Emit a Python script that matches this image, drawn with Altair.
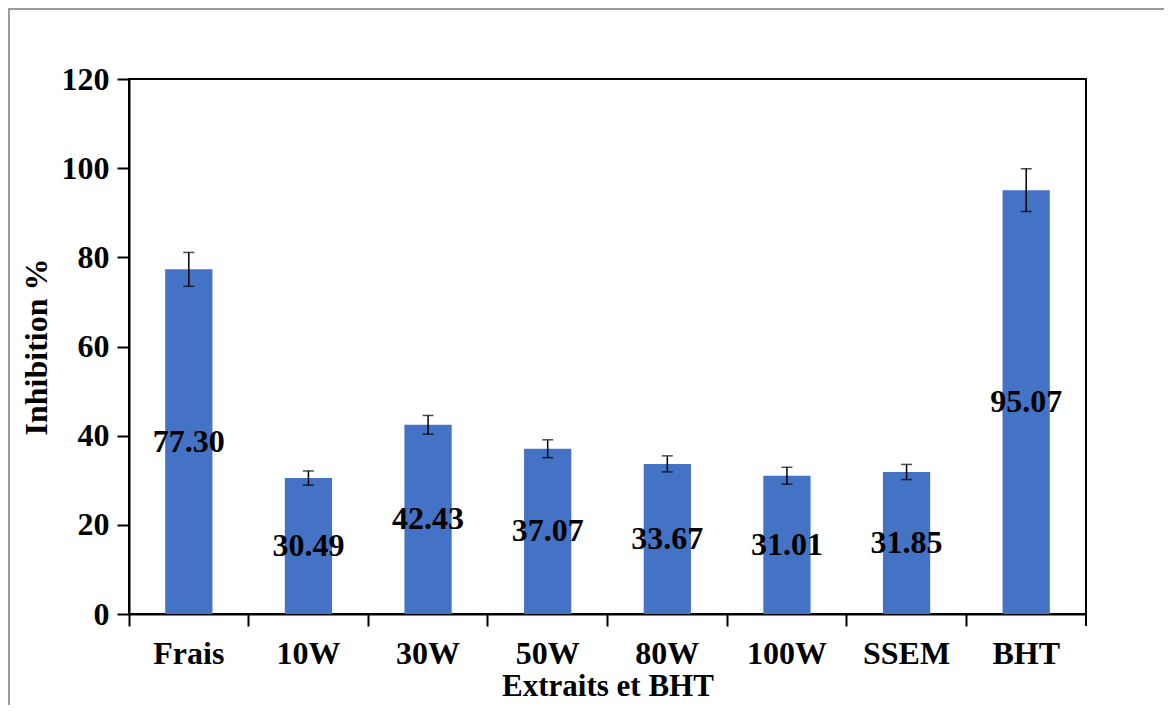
import altair as alt
import pandas as pd

categories = ["Frais", "10W", "30W", "50W", "80W", "100W", "SSEM", "BHT"]
values = [77.30, 30.49, 42.43, 37.07, 33.67, 31.01, 31.85, 95.07]
errors = [3.8, 1.6, 2.1, 2.0, 1.8, 1.9, 1.7, 4.8]
y_ticks = [0, 20, 40, 60, 80, 100, 120]

df = pd.DataFrame({"cat": categories, "val": values, "err": errors})

FONT = "Liberation Serif"
W, H = 957, 535

xenc = alt.X("cat:N", sort=categories, title="Extraits et BHT",
             scale=alt.Scale(paddingInner=0, paddingOuter=0),
             axis=alt.Axis(labelAngle=0, bandPosition=0, ticks=True, tickSize=12,
                           tickWidth=2, tickColor="black", domainColor="black",
                           domainWidth=2, labelFont=FONT, labelFontSize=32,
                           labelFontWeight="bold", labelColor="black", labelPadding=12,
                           titleFont=FONT, titleFontSize=31, titleFontWeight="bold",
                           titleColor="black", titlePadding=2))

yscale = alt.Scale(domain=[0, 120], nice=False)

base = alt.Chart(df)

bars = base.mark_bar(color="#4472C4", width=alt.RelativeBandSize(0.395)).encode(
    x=xenc,
    y=alt.Y("val:Q", scale=yscale, title="Inhibition %",
            axis=alt.Axis(values=y_ticks, grid=False, tickSize=12, tickWidth=2,
                          tickColor="black", domainColor="black", domainWidth=2,
                          labelFont=FONT, labelFontSize=32, labelFontWeight="bold",
                          labelColor="black", labelPadding=8,
                          titleFont=FONT, titleFontSize=32, titleFontWeight="bold",
                          titleColor="black", titlePadding=8)),
)

err_rule = base.transform_calculate(
    lo="datum.val - datum.err", hi="datum.val + datum.err"
).mark_rule(color="black", strokeWidth=1.5).encode(
    x=alt.X("cat:N", sort=categories),
    y=alt.Y("lo:Q", scale=yscale),
    y2="hi:Q",
)

cap_lo = base.transform_calculate(lo="datum.val - datum.err").mark_tick(
    color="black", thickness=1.5, size=11, orient="horizontal"
).encode(x=alt.X("cat:N", sort=categories), y=alt.Y("lo:Q", scale=yscale))

cap_hi = base.transform_calculate(hi="datum.val + datum.err").mark_tick(
    color="black", thickness=1.5, size=11, orient="horizontal"
).encode(x=alt.X("cat:N", sort=categories), y=alt.Y("hi:Q", scale=yscale))

labels = base.transform_calculate(mid="datum.val / 2").mark_text(
    font=FONT, fontSize=32, fontWeight="bold", color="black", baseline="middle"
).encode(
    x=alt.X("cat:N", sort=categories),
    y=alt.Y("mid:Q", scale=yscale),
    text=alt.Text("val:Q", format=".2f"),
)

end_tick = base.mark_rule(color="black", strokeWidth=2).encode(
    x=alt.value(W), y=alt.value(H), y2=alt.value(H + 12)
)

frame = base.mark_rect(fill=None, stroke="#9a9a9a", strokeWidth=2).encode(
    x=alt.value(-120), x2=alt.value(W + 200), y=alt.value(-70), y2=alt.value(H + 200)
)

chart = alt.layer(frame, bars, err_rule, cap_lo, cap_hi, labels, end_tick).properties(
    width=W, height=H,
    autosize=alt.AutoSizeParams(type="none"),
    padding={"left": 121, "top": 71, "right": 78, "bottom": 91},
    background="white",
).configure_view(stroke="black", strokeWidth=2)

chart.save("out.html", embed_options={"renderer": "svg", "actions": False})
